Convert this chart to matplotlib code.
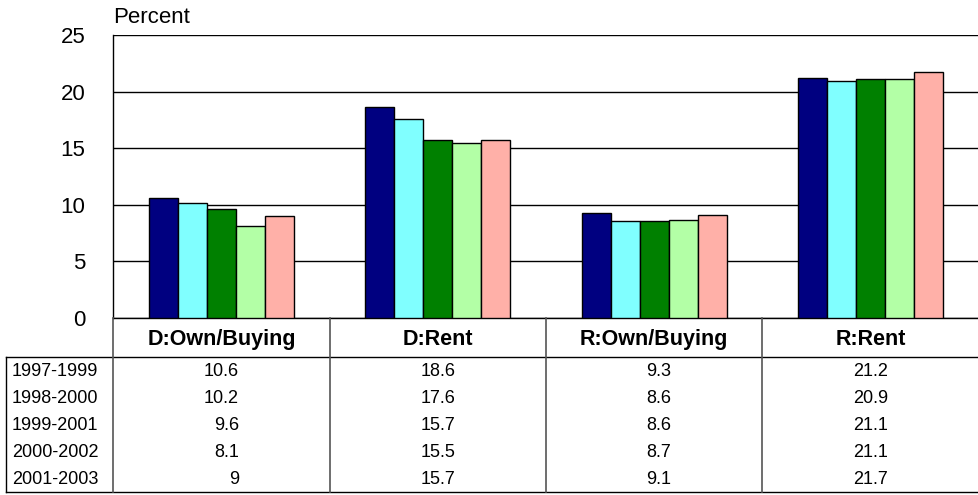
import numpy as np
import matplotlib.pyplot as plt

plt.rcParams['font.family'] = ['Liberation Sans', 'DejaVu Sans']

categories = ['D:Own/Buying', 'D:Rent', 'R:Own/Buying', 'R:Rent']
periods = ['1997-1999', '1998-2000', '1999-2001', '2000-2002', '2001-2003']
values = [
    [10.6, 18.6, 9.3, 21.2],
    [10.2, 17.6, 8.6, 20.9],
    [9.6, 15.7, 8.6, 21.1],
    [8.1, 15.5, 8.7, 21.1],
    [9, 15.7, 9.1, 21.7],
]
colors = ['#000080', '#80FFFF', '#008000', '#B3FFA6', '#FFB0A8']

W, H = 979, 495
fig = plt.figure(figsize=(W / 100, H / 100), dpi=100)

# chart area in pixel units
x0, x1, ytop, ybot = 113, 979, 35, 318
ax = fig.add_axes([x0 / W, 1 - ybot / H, (x1 - x0) / W, (ybot - ytop) / H])

x = np.arange(len(categories))
bw = 0.134
for i, (period, vals) in enumerate(zip(periods, values)):
    ax.bar(x + (i - 2) * bw, vals, bw, color=colors[i], edgecolor='black',
           linewidth=1, zorder=3, label=period)

ax.set_xlim(-0.5, len(categories) - 0.5)
ax.set_ylim(0, 25)
ax.set_yticks(range(0, 26, 5))
ax.set_xticks([])
ax.yaxis.grid(True, color='black', linewidth=1)
ax.set_axisbelow(True)
ax.tick_params(axis='y', length=0, pad=20, labelsize=16)
for side in ['top', 'right']:
    ax.spines[side].set_visible(False)
ax.spines['left'].set_linewidth(1)
ax.spines['bottom'].set_linewidth(1)
ax.text(0, 1.025, 'Percent', transform=ax.transAxes, fontsize=16,
        ha='left', va='bottom')

# data table below the chart, drawn in pixel coordinates
tb = fig.add_axes([0, 0, 1, 1], facecolor='none')
tb.set_xlim(0, W)
tb.set_ylim(H, 0)
tb.axis('off')

col_edges = [113, 330, 546, 762, 979]
head_bot = 357
tab_bot = 492
row_h = (tab_bot - head_bot) / len(periods)

tb.plot([6, W], [head_bot, head_bot], color='black', lw=1)
tb.plot([6, W], [tab_bot, tab_bot], color='black', lw=1)
tb.plot([6, 6], [head_bot, tab_bot], color='black', lw=1)
for xe in col_edges[:-1]:
    tb.plot([xe, xe], [ybot, tab_bot], color='#555555', lw=1.2)

for j, cat in enumerate(categories):
    cx = (col_edges[j] + col_edges[j + 1]) / 2
    tb.text(cx, (ybot + head_bot) / 2 + 2, cat, ha='center', va='center',
            fontsize=15.5, fontweight='bold')

for i, period in enumerate(periods):
    cy = head_bot + row_h * (i + 0.5) + 1
    tb.text(12, cy, period, ha='left', va='center', fontsize=13)
    for j in range(len(categories)):
        cx = (col_edges[j] + col_edges[j + 1]) / 2
        tb.text(cx + 17.5, cy, f'{values[i][j]:g}', ha='right', va='center',
                fontsize=13)

fig.savefig('out.png', dpi=100)
